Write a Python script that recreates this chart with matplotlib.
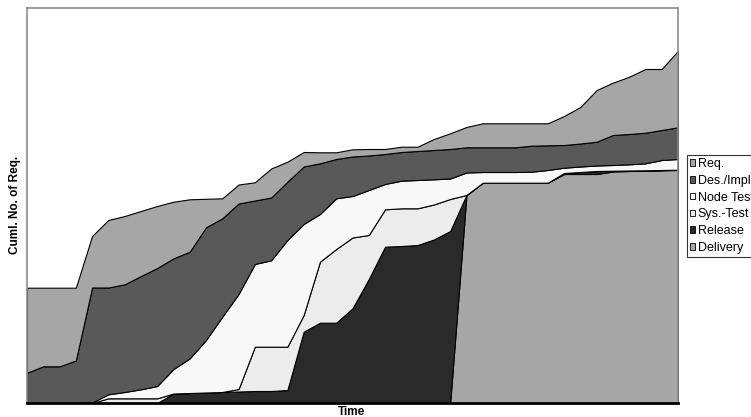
import matplotlib
matplotlib.use("Agg")
import matplotlib.pyplot as plt
from matplotlib.patches import Patch
import numpy as np

plt.rcParams['font.family'] = ['Liberation Sans', 'DejaVu Sans']

# time steps (41 snapshots) and cumulative-flow layers, bottom to top
t = np.arange(41)

delivery = [0, 0, 0, 0, 0, 0, 0, 0, 0, 0,
            0, 0, 0, 0, 0, 0, 0, 0, 0, 0,
            0, 0, 0, 0, 0, 0, 0, 208, 220.3, 220.3,
            220.3, 220.3, 220.3, 229, 229, 229, 231.5, 232, 232.3, 232.7,
            233]
release = [0, 0, 0, 0, 0, 0, 0, 0, 0, 9.5,
           10, 10.5, 11, 11.5, 12, 12, 13, 71.3, 80.3, 80.3,
           94.7, 124, 156.3, 157, 158, 163.5, 172, 0, 0, 0,
           0, 0, 0, 1, 2, 3, 0.8, 0.5, 0.4, 0.3,
           0.3]
sys_test = [0, 0, 0, 0, 0, 4.7, 4.7, 4.7, 4.7, 0,
            0, 0, 0, 2.5, 44.3, 44.3, 43.3, 16.7, 61, 73.7,
            70.8, 44, 37.4, 37.7, 36.7, 35, 32, 0, 0, 0,
            0, 0, 0, 0, 0, 0, 0, 0, 0, 0,
            0]
node_test = [0, 0, 0, 0, 0.5, 4, 6.3, 9, 12.3, 24.5,
             34.7, 52.5, 75.3, 95, 82.7, 86.4, 106.7, 91, 47.7, 50.7,
             41.5, 45, 25.3, 27.6, 28.3, 25.2, 20.5, 22.5, 10.7, 10.7,
             10.7, 11, 12.7, 5.3, 5.5, 5.5, 5.7, 6.2, 7, 10,
             10.7]
des_imp = [30.3, 36.7, 36.7, 42.5, 115, 106.8, 107.7, 113.3, 118, 110.7,
           106.6, 112.7, 98.4, 90.5, 63.5, 62.8, 58.3, 57.5, 50.7, 39.3,
           39.5, 34.5, 30, 28.7, 29, 29.3, 29.5, 25.2, 24.7, 24.7,
           24.7, 26, 24.7, 22.7, 23, 23.8, 30, 30.3, 30.6, 30,
           31.7]
req = [85, 78.6, 78.6, 72.8, 51.5, 67.5, 68.3, 65, 62, 56.6,
       52.4, 28.5, 20, 19, 18.2, 29, 20, 14.5, 11, 6.7,
       7.2, 6.5, 5, 5.3, 4.3, 11, 15.7, 20.3, 24, 24,
       24, 22.4, 22, 29, 36.5, 51.7, 52.3, 57.3, 63.7, 61,
       76.6]

labels = ["Req.", "Des./Impl.", "Node Test", "Sys.-Test", "Release", "Delivery"]
colors = ["#a6a6a6", "#595959", "#f8f8f8", "#ececec", "#2a2a2a", "#a6a6a6"]

fig = plt.figure(figsize=(7.51, 4.17), dpi=100)
ax = fig.add_axes([27/751, 14/417, 651/751, 395/417])

# stack from the bottom: delivery first, requirements on top
ax.stackplot(t, delivery, release, sys_test, node_test, des_imp, req,
             colors=colors[::-1], edgecolor="black", linewidth=0.8)

ax.set_xlim(0, 40)
ax.set_ylim(0, 395)
ax.set_xticks([])
ax.set_yticks([])
for s in ["top", "left", "right"]:
    ax.spines[s].set_color("#8c8c8c")
    ax.spines[s].set_linewidth(1.2)
ax.spines["bottom"].set_color("black")
ax.spines["bottom"].set_linewidth(2)

fig.text(352/751, 1 - 412/417, "Time", ha="center", va="center",
         fontsize=8.5, fontweight="bold")
fig.text(15/751, 1 - 205/417, "Cuml. No. of Req.", ha="center", va="center",
         rotation=90, fontsize=8.5, fontweight="bold")

# legend sits at the right edge and runs off the figure, as in the source
handles = [Patch(facecolor=c, edgecolor="black", linewidth=0.6) for c in colors]
leg = fig.legend(handles, labels, loc="upper left",
                 bbox_to_anchor=(687/751, 1 - 155/417),
                 fontsize=9, frameon=True, fancybox=False,
                 handlelength=0.42, handleheight=0.42, handletextpad=0.2,
                 labelspacing=0.38, borderpad=0.25, borderaxespad=0)
leg.get_frame().set_edgecolor("black")
leg.get_frame().set_linewidth(0.8)

fig.savefig("out.png", dpi=100)
